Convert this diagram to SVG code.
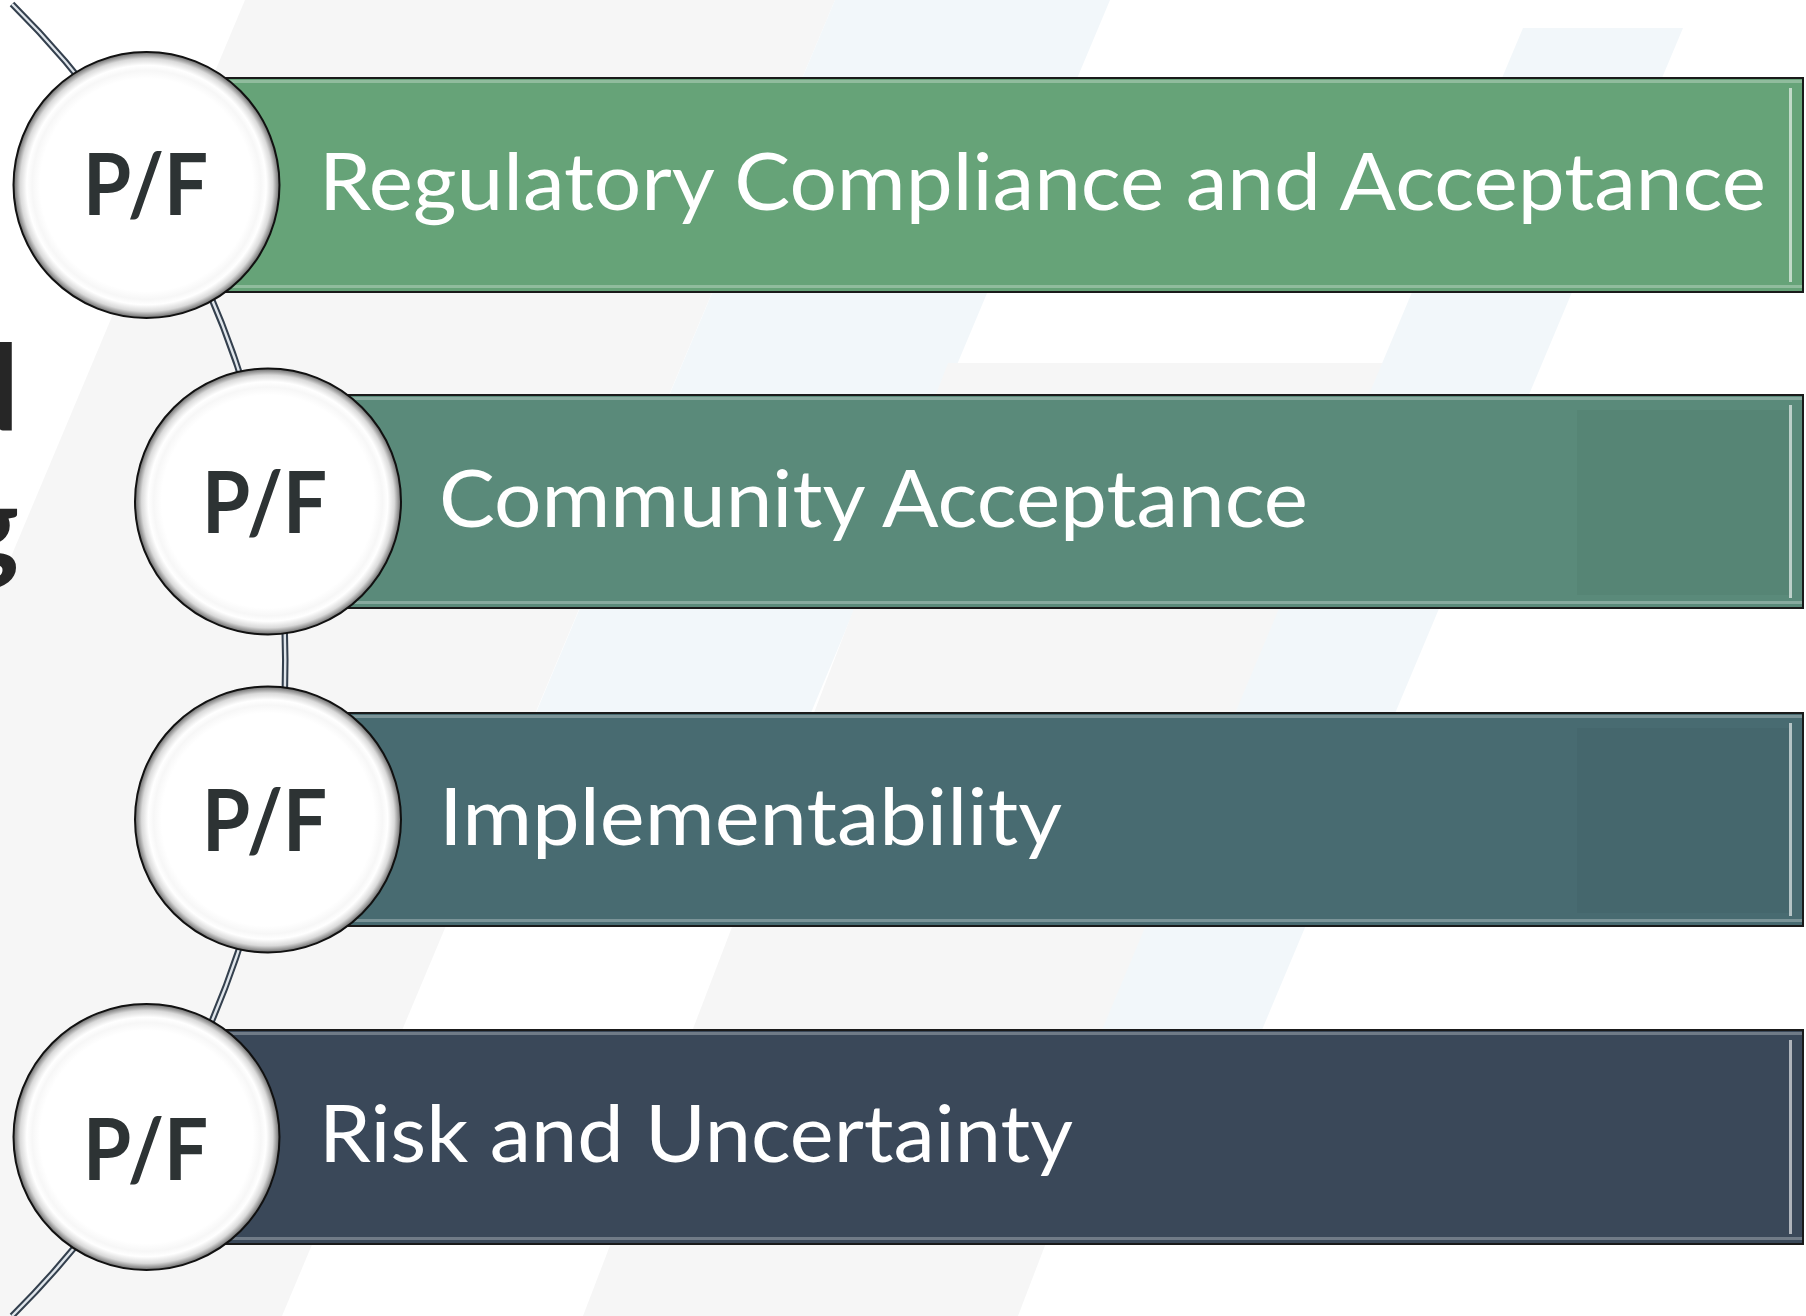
<svg xmlns="http://www.w3.org/2000/svg" width="1806" height="1316" viewBox="0 0 1806 1316">
  <style>
    .lbl { font-family: Lato, "Open Sans", "Liberation Sans", sans-serif; font-size: 80px; fill: #ffffff; }
    .pf { font-family: Lato, "Open Sans", "Liberation Sans", sans-serif; font-weight: 700; font-size: 86px; fill: #2d3334; }
    .side { font-family: Lato, "Open Sans", "Liberation Sans", sans-serif; font-weight: 700; font-size: 118px; fill: #262626; }
    .bar { stroke: #1a1a1a; stroke-width: 2; }
    .knob { fill: url(#knobFill); stroke: #111111; stroke-width: 2; }
    .hl { fill: #ffffff; opacity: 0.28; }
    .edge { fill: #ffffff; opacity: 0.6; }
    .shade { fill: #000000; opacity: 0.035; }
  </style>
  <defs>
    <radialGradient id="knobFill" cx="50%" cy="50%" r="50%">
      <stop offset="0" stop-color="#ffffff"/>
      <stop offset="0.8" stop-color="#ffffff"/>
      <stop offset="0.86" stop-color="#f7f7f7"/>
      <stop offset="0.9" stop-color="#ffffff"/>
      <stop offset="0.95" stop-color="#dadada"/>
      <stop offset="1" stop-color="#6a6a6a"/>
    </radialGradient>
  </defs>

  <!-- backdrop: white page with slanted light bands -->
  <g id="backdrop">
    <rect x="0" y="0" width="1806" height="1316" fill="#ffffff"/>
    <polygon points="245,0 835,0 282,1316 -308,1316" fill="#f6f6f6"/>
    <polygon points="835,0 1110,0 766,820 491,820" fill="#f2f7fa"/>
    <polygon points="948,363 1383,363 1018,1316 583,1316" fill="#f6f6f6"/>
    <polygon points="1523,28 1683,28 1217,1137 1057,1137" fill="#f2f7fa"/>
  </g>

  <!-- partial heading glyphs at the left margin -->
  <g id="heading">
    <text class="side" x="19" y="430" text-anchor="end">d</text>
    <text class="side" x="19" y="568" text-anchor="end">g</text>
  </g>

  <!-- double-ruled arc threading the four badges -->
  <g id="connectors">
    <path d="M 12 4 A 924 924 0 0 1 12 1316" fill="none" stroke="#34404e" stroke-width="6.5"/>
    <path d="M 12 4 A 924 924 0 0 1 12 1316" fill="none" stroke="#dfe5eb" stroke-width="2.4"/>
  </g>

  <g id="node-regulatory">
    <rect class="bar" x="146" y="78" width="1657" height="214" fill="#66a378"/>
    <rect class="hl" x="147" y="80" width="1655" height="3"/>
    <rect class="hl" x="147" y="285" width="1655" height="3"/>
    <rect class="edge" x="1789" y="88" width="3" height="194"/>
    <text class="lbl" x="319" y="210" textLength="1447" lengthAdjust="spacingAndGlyphs">Regulatory Compliance and Acceptance</text>
    <circle class="knob" cx="146.5" cy="185" r="133"/>
    <text class="pf" x="83" y="215" textLength="125" lengthAdjust="spacingAndGlyphs">P/F</text>
  </g>

  <g id="node-community">
    <rect class="bar" x="268" y="395" width="1535" height="213" fill="#5a8a7a"/>
    <rect class="hl" x="269" y="397" width="1533" height="3"/>
    <rect class="hl" x="269" y="601" width="1533" height="3"/>
    <rect class="shade" x="1577" y="410" width="212" height="185"/>
    <rect class="edge" x="1789" y="405" width="3" height="193"/>
    <text class="lbl" x="439" y="527" textLength="869" lengthAdjust="spacingAndGlyphs">Community Acceptance</text>
    <circle class="knob" cx="268" cy="501.5" r="133"/>
    <text class="pf" x="202" y="533" textLength="125" lengthAdjust="spacingAndGlyphs">P/F</text>
  </g>

  <g id="node-implementability">
    <rect class="bar" x="268" y="713" width="1535" height="213" fill="#486b71"/>
    <rect class="hl" x="269" y="715" width="1533" height="3"/>
    <rect class="hl" x="269" y="919" width="1533" height="3"/>
    <rect class="shade" x="1577" y="728" width="212" height="185"/>
    <rect class="edge" x="1789" y="723" width="3" height="193"/>
    <text class="lbl" x="439" y="845" textLength="623" lengthAdjust="spacingAndGlyphs">Implementability</text>
    <circle class="knob" cx="268" cy="819.5" r="133"/>
    <text class="pf" x="202" y="851" textLength="125" lengthAdjust="spacingAndGlyphs">P/F</text>
  </g>

  <g id="node-risk">
    <rect class="bar" x="146" y="1030" width="1657" height="214" fill="#3a4859"/>
    <rect class="hl" x="147" y="1032" width="1655" height="3"/>
    <rect class="hl" x="147" y="1237" width="1655" height="3"/>
    <rect class="edge" x="1789" y="1040" width="3" height="194"/>
    <text class="lbl" x="319" y="1162" textLength="754" lengthAdjust="spacingAndGlyphs">Risk and Uncertainty</text>
    <circle class="knob" cx="146.5" cy="1137" r="133"/>
    <text class="pf" x="83" y="1180" textLength="125" lengthAdjust="spacingAndGlyphs">P/F</text>
  </g>
</svg>
